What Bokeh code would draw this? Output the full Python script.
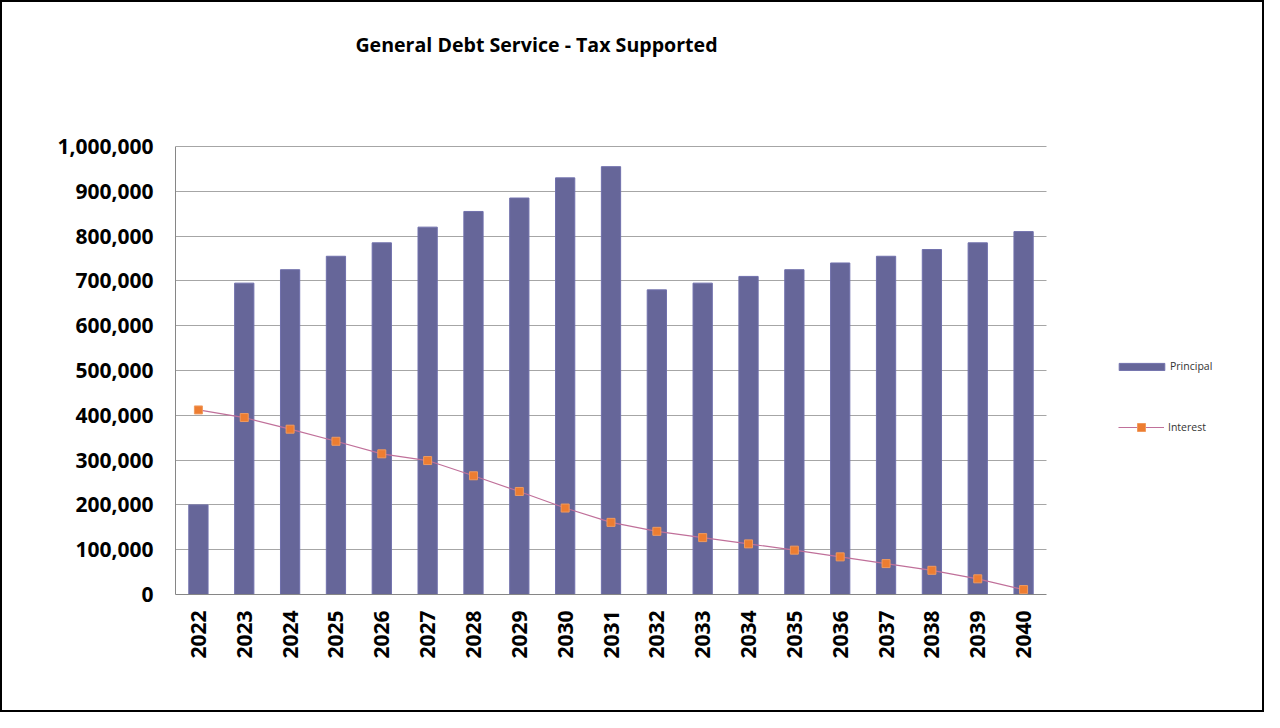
import math
from bokeh.plotting import figure
from bokeh.models import (Range1d, FixedTicker, NumeralTickFormatter, Legend, LegendItem,
                          Label, BoxAnnotation, ColumnDataSource)
from bokeh.embed import file_html
from bokeh.resources import INLINE

years = [str(y) for y in range(2022, 2041)]
principal = [200000, 695000, 725000, 755000, 785000, 820000, 855000, 885000, 930000, 955000,
             680000, 695000, 710000, 725000, 740000, 755000, 770000, 785000, 810000]
interest = [412000, 395000, 369000, 342000, 314000, 299000, 265000, 230000, 193000, 161000,
            141000, 127000, 113000, 99000, 84000, 69000, 54000, 35000, 11000]
y_ticks = list(range(0, 1000001, 100000))
title_text = "General Debt Service - Tax Supported"

FONT = "Open Sans"
Y_MAX = 1000000
n = len(years)
xs = list(range(n))

src = ColumnDataSource(dict(x=xs, year=years, principal=principal, interest=interest))

# layout: frame covers the whole canvas (minus a small border); the chart's plot area
# (categories and 0..1,000,000) occupies a part of it, leaving room for title & legend
FRAME_L, FRAME_R, FRAME_T, FRAME_B = 173, 1260, 4, 592
AREA_R, AREA_T = 1044, 144
px_per_cat = (AREA_R - FRAME_L) / n
px_per_val = (FRAME_B - AREA_T) / Y_MAX
x_end = -0.5 + (FRAME_R - FRAME_L) / px_per_cat
y_end = (FRAME_B - FRAME_T) / px_per_val

p = figure(width=1264, height=712, output_backend="svg", toolbar_location=None,
           x_range=Range1d(-0.5, x_end), y_range=Range1d(0, y_end),
           min_border_left=FRAME_L, min_border_right=1264 - FRAME_R,
           min_border_top=FRAME_T, min_border_bottom=712 - FRAME_B)
p.styles = {"border": "2px solid black"}
p.outline_line_color = None
p.background_fill_color = "white"
p.border_fill_color = "white"

# grid & axes
p.xgrid.grid_line_color = None
p.ygrid.grid_line_color = "#A6A6A6"
p.ygrid.grid_line_width = 1
p.yaxis.ticker = FixedTicker(ticks=y_ticks)
p.yaxis.formatter = NumeralTickFormatter(format="0,0")
p.yaxis.bounds = (0, Y_MAX)
p.xaxis.ticker = FixedTicker(ticks=xs)
p.xaxis.major_label_overrides = {i: y for i, y in zip(xs, years)}
p.xaxis.bounds = (-0.5, n - 0.5)

# hide grid lines beyond the plot area (legend region)
p.add_layout(BoxAnnotation(left=n - 0.5, fill_color="white", fill_alpha=1,
                           line_alpha=0, level="underlay"))

for ax in (p.xaxis, p.yaxis):
    ax.axis_line_color = "#868686"
    ax.axis_line_width = 1
    ax.major_tick_line_color = None
    ax.minor_tick_line_color = None
    ax.major_tick_in = 0
    ax.major_tick_out = 0
    ax.major_label_text_font = FONT
    ax.major_label_text_font_style = "bold"
    ax.major_label_text_font_size = "21px"
    ax.major_label_text_color = "black"

p.yaxis.major_label_standoff = 22
p.xaxis.major_label_standoff = 16
p.xaxis.major_label_orientation = math.pi / 2

bars = p.vbar(x="x", top="principal", width=0.42, source=src,
              fill_color="#666699", line_color="#7070AC", line_width=1)
line = p.line(x="x", y="interest", source=src, line_color="#C0709A", line_width=1.2)
pts = p.scatter(x="x", y="interest", source=src, marker="square", size=8,
                fill_color="#ED7D31", line_color="#F09A5E", line_width=1)

# title
p.add_layout(Label(x=361, y=FRAME_B - 42, x_units="screen", y_units="screen",
                   text=title_text, text_align="center", text_baseline="middle",
                   text_font=FONT, text_font_style="bold", text_font_size="19.6px",
                   text_color="black"))

# legends
common = dict(padding=0, margin=0, border_line_color=None, background_fill_alpha=0,
              label_text_font=FONT, label_text_font_size="10.5px",
              label_text_color="#333333")
leg1 = Legend(items=[LegendItem(label="Principal", renderers=[bars])],
              location=(938, 221), glyph_width=57, glyph_height=9, label_height=9,
              label_standoff=0, **common)
leg2 = Legend(items=[LegendItem(label="Interest", renderers=[line, pts])],
              location=(943, 157), glyph_width=46, glyph_height=20, label_height=20,
              label_standoff=4, **common)
p.add_layout(leg1)
p.add_layout(leg2)

open("out.html", "w").write(file_html(p, INLINE))
